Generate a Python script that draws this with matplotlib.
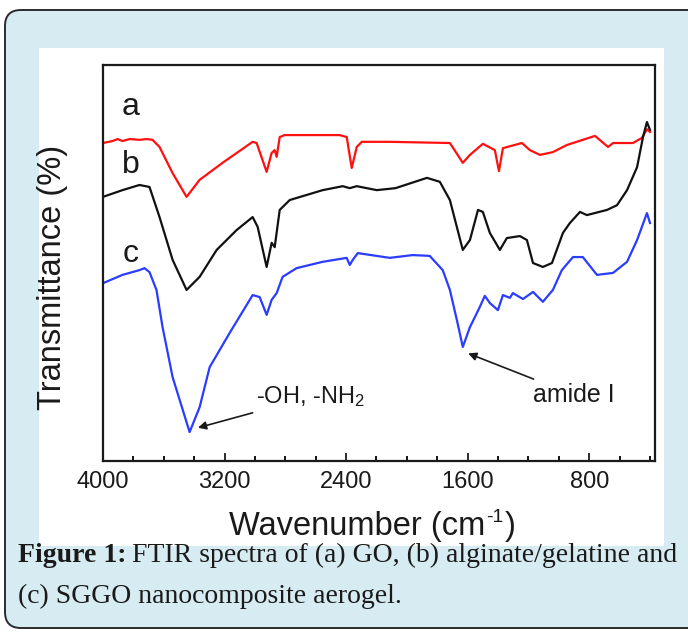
import matplotlib
matplotlib.use('Agg')
import matplotlib.pyplot as plt
from matplotlib.patches import FancyBboxPatch, Rectangle
from matplotlib.transforms import IdentityTransform
from matplotlib.ticker import MultipleLocator, FixedLocator

plt.rcParams['font.family'] = ['Liberation Sans', 'DejaVu Sans']
plt.rcParams['mathtext.fontset'] = 'custom'
plt.rcParams['mathtext.rm'] = 'Liberation Sans'
plt.rcParams['mathtext.it'] = 'Liberation Sans:italic'

# spectra (wavenumber, arbitrary transmittance 0-100)
wn_a = [4000, 3937, 3904, 3872, 3825, 3760, 3713, 3674, 3628, 3542, 3450, 3364, 3213, 3015,
        2989, 2923, 2890, 2870, 2857, 2837, 2805, 2442, 2396, 2363, 2330, 2297, 2113, 1717,
        1632, 1585, 1500, 1421, 1394, 1368, 1243, 1190, 1124, 1039, 947, 762, 676, 643,
        512, 453, 420, 400]
t_a = [80.3, 80.8, 81.3, 80.8, 81.3, 81.1, 81.3, 81.1, 79.3, 72.7, 66.7, 71.0, 75.3, 80.6,
       80.3, 73.0, 77.8, 78.5, 76.8, 81.8, 82.3, 82.3, 81.8, 74.0, 79.3, 80.6, 80.6, 80.3,
       75.3, 77.3, 80.1, 78.5, 73.2, 79.0, 80.3, 78.5, 77.3, 78.0, 79.8, 82.1, 79.3, 80.3,
       80.3, 81.6, 83.8, 83.1]

wn_b = [4000, 3872, 3760, 3694, 3628, 3542, 3450, 3364, 3252, 3121, 3015, 2982, 2923, 2890,
        2870, 2837, 2771, 2554, 2422, 2376, 2330, 2198, 2075, 1868, 1783, 1717, 1632, 1585,
        1532, 1500, 1454, 1388, 1342, 1256, 1210, 1170, 1105, 1045, 973, 927, 861, 815,
        683, 617, 551, 485, 446, 420, 400]
t_b = [66.7, 68.4, 69.7, 69.2, 61.6, 50.8, 43.2, 46.5, 53.3, 58.3, 61.6, 59.1, 49.0, 55.1,
       54.0, 63.4, 65.9, 68.4, 69.4, 68.9, 69.4, 68.4, 68.9, 71.5, 70.5, 65.9, 53.3, 55.8,
       63.4, 62.9, 57.6, 53.3, 56.3, 56.8, 55.8, 50.0, 49.0, 50.0, 57.6, 60.1, 62.9, 62.1,
       63.4, 64.6, 68.4, 74.2, 81.8, 85.6, 83.6]

wn_c = [4000, 3872, 3760, 3727, 3694, 3648, 3608, 3542, 3430, 3364, 3298, 3167, 3015, 2969,
        2923, 2890, 2857, 2818, 2726, 2554, 2396, 2376, 2356, 2323, 2113, 1962, 1850, 1764,
        1717, 1671, 1632, 1585, 1520, 1487, 1454, 1401, 1368, 1322, 1302, 1236, 1170, 1105,
        1039, 980, 907, 842, 749, 643, 551, 485, 420, 400]
t_c = [44.9, 47.0, 48.2, 48.7, 47.7, 43.2, 33.8, 21.2, 7.3, 13.6, 23.7, 32.3, 41.9, 41.4,
       36.9, 40.7, 42.4, 46.5, 48.7, 50.3, 51.3, 49.5, 50.8, 52.5, 51.3, 52.0, 51.8, 48.2,
       43.2, 35.6, 28.8, 33.8, 38.9, 41.7, 39.9, 38.1, 41.9, 41.2, 42.4, 40.9, 42.7, 40.2,
       43.2, 48.2, 51.5, 51.5, 47.0, 47.5, 50.3, 55.8, 62.6, 60.1]

labels = ['a', 'b', 'c']
label_pos = [87.4, 72.7, 50.3]
xticks_major = [4000, 3200, 2400, 1600, 800]

W, H = 688, 633
fig = plt.figure(figsize=(W / 100, H / 100), dpi=100)

def px(x, y):
    # top-left pixel coords -> display coords
    return x, H - y

# light blue rounded frame + white panel behind the plot
frame = FancyBboxPatch(px(5, 628), 700, 618, boxstyle='round,pad=0,rounding_size=16',
                       transform=IdentityTransform(), facecolor='#d7ecf2',
                       edgecolor='#2b2b2b', linewidth=1.4, zorder=-3)
fig.patches.append(frame)
panel = Rectangle(px(39, 546), 625, 498, transform=IdentityTransform(),
                  facecolor='white', edgecolor='none', zorder=-2)
fig.patches.append(panel)

ax = fig.add_axes([103 / W, (H - 461) / H, 552 / W, 396 / H])
ax.set_facecolor('white')
ax.plot(wn_a, t_a, color='#ff1010', lw=1.6)
ax.plot(wn_b, t_b, color='#111111', lw=1.6)
ax.plot(wn_c, t_c, color='#2a3cff', lw=1.6)

for lab, yy in zip(labels, label_pos):
    ax.text(3819, yy, lab, fontsize=23, ha='center', va='baseline', color='#1a1a1a')

ax.annotate('-OH, -NH$_2$', xy=(3384, 8.3), xytext=(2990, 16.2), fontsize=17,
            ha='left', va='center', color='#1a1a1a',
            arrowprops=dict(arrowstyle='-|>', color='#1a1a1a', lw=1.2,
                            mutation_scale=12, shrinkA=2, shrinkB=1))
ax.annotate('amide I', xy=(1605, 27.3), xytext=(1170, 16.7), fontsize=18,
            ha='left', va='center', color='#1a1a1a',
            arrowprops=dict(arrowstyle='-|>', color='#1a1a1a', lw=1.2,
                            mutation_scale=12, shrinkA=2, shrinkB=1))

ax.set_xlim(4000, 367)
ax.set_ylim(0, 100)
ax.xaxis.set_major_locator(FixedLocator(xticks_major))
ax.xaxis.set_minor_locator(MultipleLocator(200))
ax.set_xticklabels([str(v) for v in xticks_major])
ax.set_yticks([])
ax.tick_params(axis='x', which='major', direction='in', length=6, width=1.3,
               labelsize=17, pad=7, colors='#1a1a1a')
ax.tick_params(axis='x', which='minor', direction='in', length=3.6, width=1.3)
for s in ax.spines.values():
    s.set_linewidth(1.6)
    s.set_color('#1a1a1a')

fig.text(53 / W, (H - 277) / H, 'Transmittance (%)', rotation=90, fontsize=23.5,
         ha='center', va='center', color='#1a1a1a')

r = fig.canvas.get_renderer()
# x label built from pieces so the superscript keeps a plain hyphen
xl = fig.text(229 / W, (H - 535) / H, 'Wavenumber (cm', fontsize=23.5,
              ha='left', va='baseline', color='#1a1a1a')
bx = xl.get_window_extent(renderer=r)
sup = fig.text((bx.x1 + 1) / W, (H - 522) / H, '-1', fontsize=14,
               ha='left', va='baseline', color='#1a1a1a')
bs = sup.get_window_extent(renderer=r)
fig.text((bs.x1 + 1) / W, (H - 535) / H, ')', fontsize=23.5,
         ha='left', va='baseline', color='#1a1a1a')

# caption, bold part first then the rest right after it
cap_kw = dict(fontsize=20, family=['Liberation Serif', 'DejaVu Serif'], color='#1a1a1a',
              va='baseline')
t1 = fig.text(18 / W, (H - 562) / H, 'Figure 1:', weight='bold', **cap_kw)
bb = t1.get_window_extent(renderer=r)
fig.text((bb.x1 + 5) / W, (H - 562) / H, 'FTIR spectra of (a) GO, (b) alginate/gelatine and',
         **cap_kw)
fig.text(18 / W, (H - 603) / H, '(c) SGGO nanocomposite aerogel.', **cap_kw)

fig.savefig('out.png', dpi=100)
